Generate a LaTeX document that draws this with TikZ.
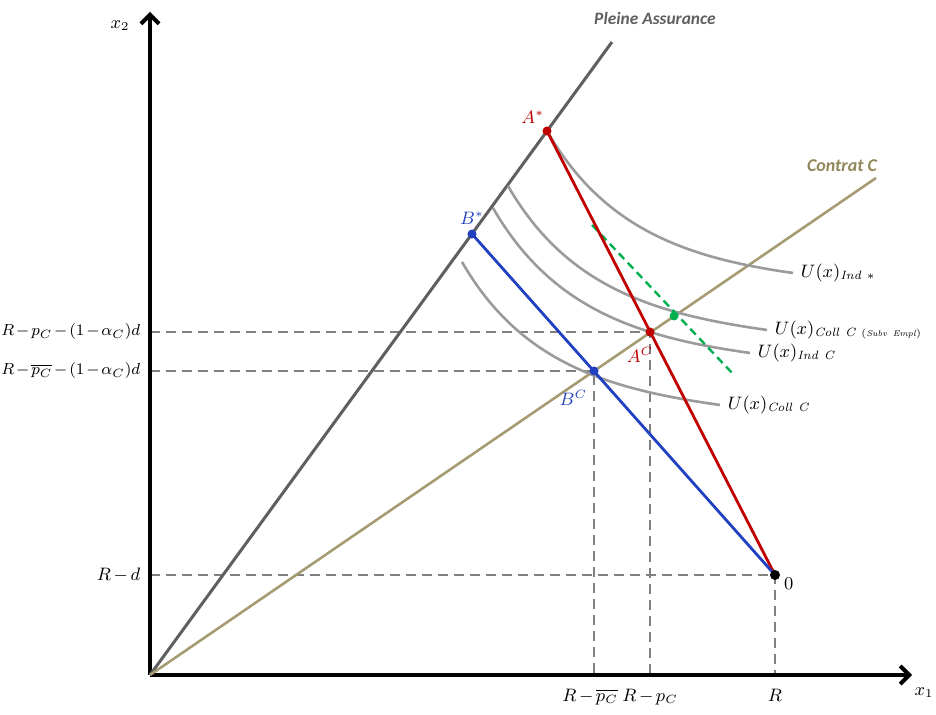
\documentclass[tikz,border=0pt]{standalone}
\usepackage{fontspec}
\newfontfamily\calib{Carlito}
\usetikzlibrary{arrows.meta,positioning}
\definecolor{rouge}{RGB}{192,0,0}
\definecolor{bleu}{RGB}{32,64,192}
\definecolor{kaki}{RGB}{165,156,115}
\definecolor{kakif}{RGB}{145,135,90}
\definecolor{vert}{RGB}{0,176,80}
\definecolor{gris}{RGB}{155,155,155}
\definecolor{grisf}{RGB}{95,95,95}
\medmuskip=2.5mu
\tikzset{
  axe/.style={->, line width=2pt},
  courbe/.style={gris, line width=1.3pt},
  tiret/.style={gray, line width=1.2pt, dash pattern=on 5pt off 3pt},
  etiq/.style={text=black},
  etiqg/.style={text=black, font=\fontsize{8}{10}\selectfont},
  titre/.style={font=\calib\bfseries\itshape\fontsize{8.7}{10}\selectfont},
}
\begin{document}
\begin{tikzpicture}[>={Straight Barb[length=4.5pt,width=9pt]}, x=0.5pt, y=0.5pt, font=\fontsize{8.6}{10}\selectfont]
\useasboundingbox (-150,-40) rectangle (786,675);
\coordinate (O) at (0,0);
\coordinate (X) at (762,0);
\coordinate (Y) at (0,663);
\coordinate (PA) at (462,633);
\coordinate (CC) at (726,497);
\coordinate (Z) at (625,100);
\coordinate (As) at (397,544);
\coordinate (Bs) at (322,441);
\coordinate (AC) at (500,343);
\coordinate (BC) at (444,304);
\coordinate (G) at (524,359);
\coordinate (G1) at (442,450);
\coordinate (G2) at (584,300);

\draw[tiret] (O|-Z) node[etiq, left=1pt] (lRd) {$R-d$} -- (Z) -- (Z|-O) node[etiq, below=3pt] (lR) {$R$};
\draw[tiret] (O|-AC) node[etiqg, left=1pt] (lpc) {$\medmuskip=2mu R-p_C-(1-\alpha_C)d$} -- (AC) -- (AC|-O) node[etiq, below=3pt] (lRpc) {$R-p_C$};
\draw[tiret] (O|-BC) node[etiqg, left=1pt] (lpcb) {$\medmuskip=2mu R-\overline{p_C}-(1-\alpha_C)d$} -- (BC) -- (BC|-O) node[etiq, below=3pt, xshift=-2pt] (lRpcb) {$R-\overline{p_C}$};

\draw[axe] (O) -- (X) node[below right=2pt and -3pt] (lx1) {$x_1$};
\draw[axe] (O) -- (Y) node[below left=0pt and 6pt] (lx2) {$x_2$};

\draw[grisf, line width=1.5pt] (O) -- (PA);
\node[titre, text=grisf] (lPA) at (505,657) {Pleine Assurance};
\draw[kaki, line width=1.3pt] (O) -- (CC);
\node[titre, text=kakif, font=\calib\bfseries\itshape\fontsize{9}{10}\selectfont] (lCC) at (692,509) {Contrat C};

\draw[courbe] (As) to[out=-60,in=172] (643,402) node[etiq, right=0pt] (lU1) {$U(x)_{\mathit{Ind}\ *}$};
\draw[courbe] (358,489) to[out=-60,in=172] (617,345) node[etiq, right=0pt] (lU2) {$U(x)_{\mathit{Coll\ C}\ \scriptscriptstyle\mathit{(Subv\ Empl)}}$};
\draw[courbe] (343,467) to[out=-60,in=172] (600,322) node[etiq, right=0pt] (lU3) {$U(x)_{\mathit{Ind\ C}}$};
\draw[courbe] (312,413) to[out=-60,in=172] (570,270) node[etiq, right=0pt] (lU4) {$U(x)_{\mathit{Coll\ C}}$};

\draw[vert, line width=1.2pt, dash pattern=on 4pt off 2.5pt] (G1) -- (G2);
\draw[rouge, line width=1.4pt] (As) -- (Z);
\draw[bleu, line width=1.4pt] (Bs) -- (Z);

\fill[vert] (G) circle (4.5);
\fill[rouge] (As) circle (4.5) node[above left=0pt and -2pt, text=rouge] (lAs) {$A^*$};
\fill[rouge] (AC) circle (4.5) node[below=4pt, xshift=-5pt, text=rouge] (lAC) {$A^C$};
\fill[bleu] (Bs) circle (4.5) node[above=1pt, text=bleu] (lBs) {$B^*$};
\fill[bleu] (BC) circle (4.5) node[below left=6pt and 0pt, text=bleu] (lBC) {$B^C$};
\fill (Z) circle (5) node[below right=-2pt and 1pt] (lZ) {$0$};

\end{tikzpicture}
\end{document}
